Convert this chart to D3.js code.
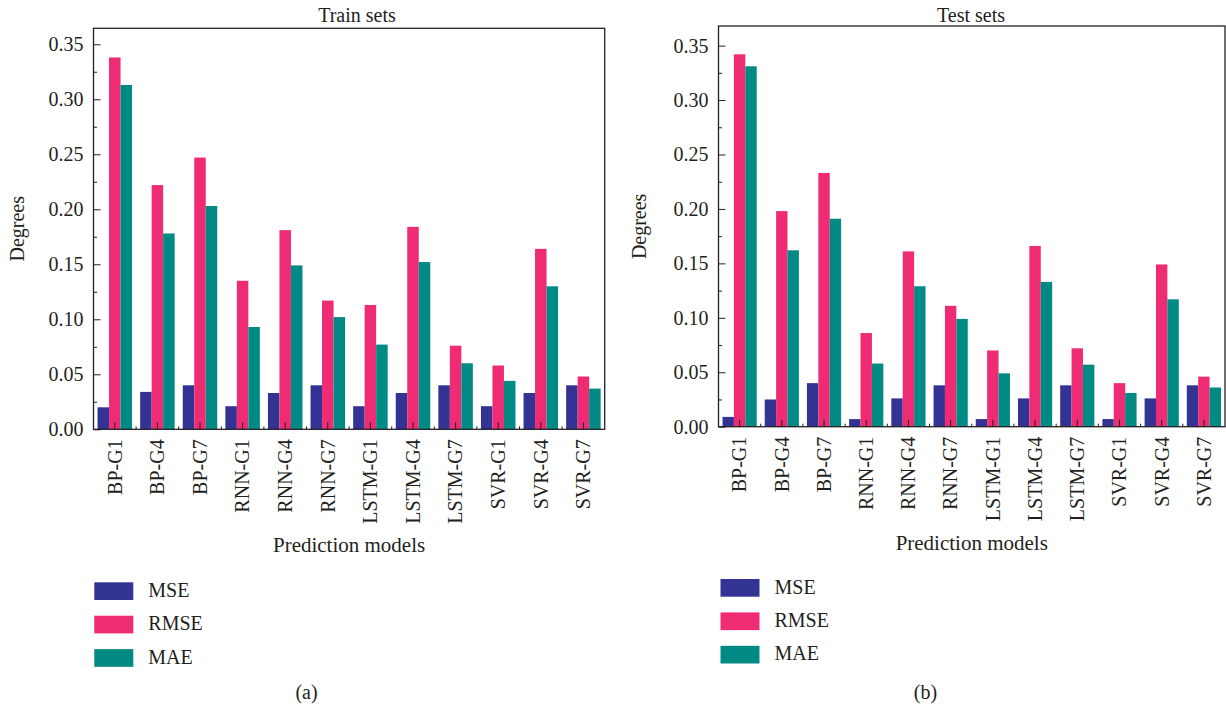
<!DOCTYPE html>
<html>
<head>
<meta charset="utf-8">
<script src="https://cdn.jsdelivr.net/npm/d3@7"></script>
<style>
  html, body { margin: 0; padding: 0; background: #ffffff; }
  svg { display: block; }
  text { font-family: "Liberation Serif", "Times New Roman", serif; fill: #231f20; }
</style>
</head>
<body>
<svg id="chart" width="1226" height="705"></svg>
<script>
// Model variants on the x axis
const models = ["BP-G1", "BP-G4", "BP-G7", "RNN-G1", "RNN-G4", "RNN-G7",
                "LSTM-G1", "LSTM-G4", "LSTM-G7", "SVR-G1", "SVR-G4", "SVR-G7"];

// Error metrics (legend order)
const metrics = ["MSE", "RMSE", "MAE"];

// Training-set errors
const trainMSE  = [0.020, 0.034, 0.040, 0.021, 0.033, 0.040, 0.021, 0.033, 0.040, 0.021, 0.033, 0.040];
const trainRMSE = [0.338, 0.222, 0.247, 0.135, 0.181, 0.117, 0.113, 0.184, 0.076, 0.058, 0.164, 0.048];
const trainMAE  = [0.313, 0.178, 0.203, 0.093, 0.149, 0.102, 0.077, 0.152, 0.060, 0.044, 0.130, 0.037];

// Test-set errors
const testMSE  = [0.009, 0.025, 0.040, 0.007, 0.026, 0.038, 0.007, 0.026, 0.038, 0.007, 0.026, 0.038];
const testRMSE = [0.342, 0.198, 0.233, 0.086, 0.161, 0.111, 0.070, 0.166, 0.072, 0.040, 0.149, 0.046];
const testMAE  = [0.331, 0.162, 0.191, 0.058, 0.129, 0.099, 0.049, 0.133, 0.057, 0.031, 0.117, 0.036];

// Axis ticks
const yTicks = [0, 0.05, 0.10, 0.15, 0.20, 0.25, 0.30, 0.35];
const yMinorTicks = [0.025, 0.075, 0.125, 0.175, 0.225, 0.275, 0.325];

const colors = { MSE: "#333393", RMSE: "#ee2b73", MAE: "#008a84" };

const svg = d3.select("#chart");

function rows(mse, rmse, mae) {
  return models.map((m, i) => ({ model: m, MSE: mse[i], RMSE: rmse[i], MAE: mae[i] }));
}

const panels = [
  {
    data: rows(trainMSE, trainRMSE, trainMAE),
    title: "Train sets", tag: "(a)",
    left: 93.5, right: 604.7, top: 28.3, bottom: 429.3, yMax: 0.3645,
    titleX: 357, yLabelX: 23.5, tagX: 306.5,
    xTitleY: 552, legendX: 94.3, legendY: 582.3
  },
  {
    data: rows(testMSE, testRMSE, testMAE),
    title: "Test sets", tag: "(b)",
    left: 718.5, right: 1225, top: 26, bottom: 426.7, yMax: 0.368,
    titleX: 971, yLabelX: 645.7, tagX: 925.4,
    xTitleY: 550, legendX: 720.5, legendY: 579
  }
];

panels.forEach(p => {
  const g = svg.append("g");

  const x = d3.scaleBand().domain(models).range([p.left, p.right])
    .paddingInner(0.19).paddingOuter(0.095);
  const xs = d3.scaleBand().domain(metrics).range([0, x.bandwidth()]);
  const y = d3.scaleLinear().domain([0, p.yMax]).range([p.bottom, p.top]);

  // Bars
  const groups = g.append("g").selectAll("g")
    .data(p.data).join("g")
    .attr("transform", d => `translate(${x(d.model)},0)`);
  groups.selectAll("rect")
    .data(d => metrics.map(k => ({ key: k, value: d[k] })))
    .join("rect")
    .attr("x", d => xs(d.key))
    .attr("y", d => y(d.value))
    .attr("width", xs.bandwidth())
    .attr("height", d => y(0) - y(d.value))
    .attr("fill", d => colors[d.key]);

  // Y axis: inward major and minor ticks
  const yAxis = g.append("g").attr("transform", `translate(${p.left},0)`)
    .call(d3.axisLeft(y).tickValues(yTicks).tickFormat(d3.format(".2f"))
      .tickSize(-7).tickPadding(10));
  yAxis.select(".domain").remove();
  yAxis.selectAll("line").attr("stroke", "#231f20");
  yAxis.selectAll("text").style("font-size", "20px")
    .style("font-family", "'Liberation Serif', serif").attr("fill", "#231f20");

  const yMinor = g.append("g").attr("transform", `translate(${p.left},0)`)
    .call(d3.axisLeft(y).tickValues(yMinorTicks).tickFormat("").tickSize(-3.5));
  yMinor.select(".domain").remove();
  yMinor.selectAll("line").attr("stroke", "#231f20");

  // X axis: ticks at group centres, rotated model labels
  const xAxis = g.append("g").attr("transform", `translate(0,${p.bottom})`)
    .call(d3.axisBottom(x).tickSize(-7).tickPadding(0));
  xAxis.select(".domain").remove();
  xAxis.selectAll("line").attr("stroke", "#231f20");
  xAxis.selectAll("text")
    .style("font-size", "20px")
    .style("font-family", "'Liberation Serif', serif")
    .attr("fill", "#231f20")
    .attr("text-anchor", "end")
    .attr("transform", "rotate(-90)")
    .attr("x", -10).attr("y", 0).attr("dy", "0.34em");

  // Short ticks between groups
  const step = x.step();
  g.append("g").selectAll("line")
    .data(models.slice(1)).join("line")
    .attr("x1", d => x(d) - step * x.paddingInner() / 2)
    .attr("x2", d => x(d) - step * x.paddingInner() / 2)
    .attr("y1", p.bottom).attr("y2", p.bottom - 3)
    .attr("stroke", "#231f20");

  // Frame
  g.append("rect")
    .attr("x", p.left).attr("y", p.top)
    .attr("width", p.right - p.left).attr("height", p.bottom - p.top)
    .attr("fill", "none").attr("stroke", "#231f20").attr("stroke-width", 1.3);

  // Titles
  g.append("text").attr("x", p.titleX).attr("y", 21.5)
    .attr("text-anchor", "middle").style("font-size", "20px").text(p.title);

  g.append("text")
    .attr("transform", `translate(${p.yLabelX},${(p.top + p.bottom) / 2}) rotate(-90)`)
    .attr("text-anchor", "middle").style("font-size", "20px").text("Degrees");

  g.append("text").attr("x", (p.left + p.right) / 2).attr("y", p.xTitleY)
    .attr("text-anchor", "middle").style("font-size", "21px").text("Prediction models");

  // Legend
  const lg = g.append("g").selectAll("g").data(metrics).join("g")
    .attr("transform", (d, i) => `translate(${p.legendX},${p.legendY + i * 33.4})`);
  lg.append("rect").attr("width", 39).attr("height", 17.7).attr("fill", d => colors[d]);
  lg.append("text").attr("x", 54).attr("y", 14.5).style("font-size", "20px").text(d => d);

  g.append("text").attr("x", p.tagX).attr("y", 699)
    .attr("text-anchor", "middle").style("font-size", "20px").text(p.tag);
});
</script>
</body>
</html>
